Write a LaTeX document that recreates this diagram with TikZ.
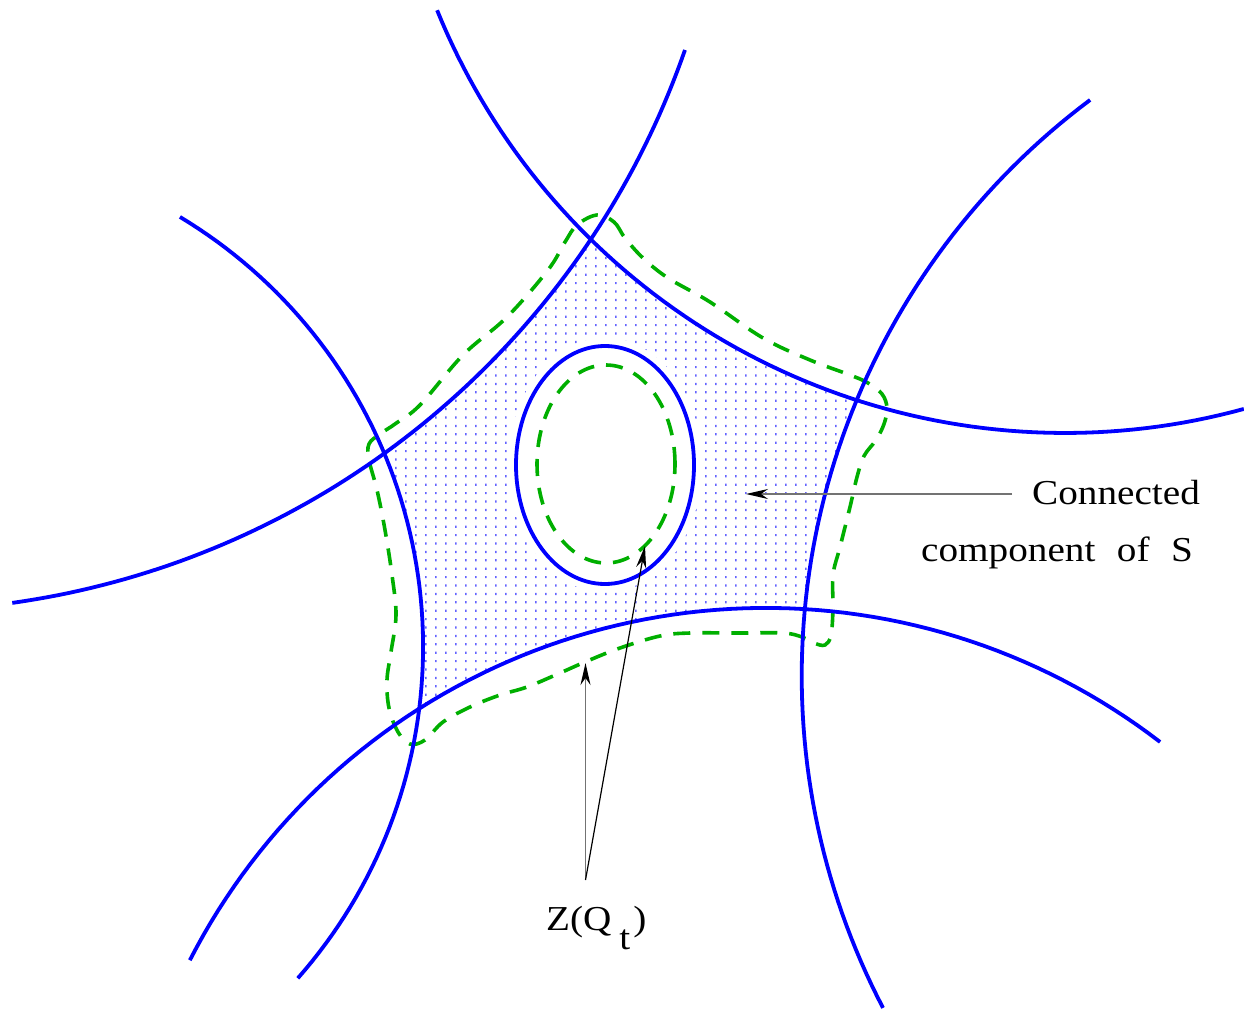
\documentclass[tikz,border=0pt]{standalone}
\usepackage{fontspec}
\usepackage{graphicx}
\setmainfont{Liberation Serif}
\usetikzlibrary{arrows.meta}
\definecolor{grn}{RGB}{0,175,0}
\definecolor{dotc}{RGB}{100,100,255}
\begin{document}
\begin{tikzpicture}[x=1pt,y=-1pt,
  blueline/.style={draw=blue, line width=3.8pt},
  greendash/.style={draw=grn, line width=3.6pt, dash pattern=on 17pt off 12pt},
  leadergray/.style={draw=black!55, line width=1.5pt},
  leaderblack/.style={draw=black, line width=1.2pt},
  tipped/.style={-{Stealth[length=22pt,width=10pt,inset=7pt,color=black]}},
  lbl/.style={inner sep=0pt, font=\fontsize{35}{42}\selectfont}]
\useasboundingbox (0,0) rectangle (1244,1011);

% dotted region
\begin{scope}
\clip plot[domain=134.3:107.8,samples=30] ({1065+677.7*cos(\x)},{-244.7+677.7*sin(\x)})
 -- plot[domain=202.6:185.5,samples=20] ({1520.9+719.2*cos(\x)},{675.8+719.2*sin(\x)})
 -- plot[domain=273.5:237.75,samples=30] ({765.8+647*cos(\x)},{1254.9+647*sin(\x)})
 -- plot[domain=6.9:-22.7,samples=20] ({-78.3+501.4*cos(\x)},{646.7+501.4*sin(\x)})
 -- plot[domain=54.2:33.7,samples=30] ({-103.95+835.2*cos(\x)},{-224.15+835.2*sin(\x)})
 -- cycle;
\fill[dotc] \foreach \i in {0,...,48} { \foreach \j in {0,...,57} { ({385+10*\i},{240+8.4*\j}) rectangle ++(1.5,2.2) } };
\end{scope}
\fill[white] (605,465) ellipse [x radius=97pt, y radius=127pt];

% green dashed outer curve
\draw[greendash] plot[smooth cycle, tension=0.6] coordinates {
 (597,215) (614,222) (625,238) (643,258) (668,278) (710,302) (763,338) (810,360)
 (850,375) (868,383) (882,394) (887,408) (884,424) (876,440) (864,456) (857,477)
 (850,507) (840,547) (833,575) (833,608) (831,635) (825,645) (814,643) (802,637)
 (783,633) (740,633) (690,633) (660,636) (620,648) (585,662) (560,673) (527,687)
 (500,695) (470,707) (443,722) (425,740) (410,744) (398,732) (389,708) (387,680)
 (391,652) (396,615) (392,575) (385,530) (377,490) (369,460) (369,444) (380,434)
 (395,424) (420,405) (463,355) (507,317) (548,270) (565,242) (577,225)};

% green dashed inner ellipse
\draw[greendash] (606,464) ellipse [x radius=69pt, y radius=99pt];

% blue arcs
\draw[blueline] plot[domain=157.9:74.7,samples=80] ({1065+677.7*cos(\x)},{-244.7+677.7*sin(\x)});
\draw[blueline] plot[domain=19.16:82.0,samples=80] ({-103.95+835.2*cos(\x)},{-224.15+835.2*sin(\x)});
\draw[blueline] plot[domain=152.5:233.2,samples=80] ({1520.9+719.2*cos(\x)},{675.8+719.2*sin(\x)});
\draw[blueline] plot[domain=-59:41.4,samples=80] ({-78.3+501.4*cos(\x)},{646.7+501.4*sin(\x)});
\draw[blueline] plot[domain=207.1:307.55,samples=80] ({765.8+647*cos(\x)},{1254.9+647*sin(\x)});
\draw[blueline] (605,465) ellipse [x radius=89pt, y radius=119pt];

% labels
\node[lbl, anchor=base west] (conn) at (1032,504) {\scalebox{1.12}[1]{Connected}};
\node[lbl, anchor=base west] (comp) at (921,561) {\scalebox{1.12}[1]{component\hspace{0.55em}of\hspace{0.55em}S}};
\node[lbl, anchor=base west] (zq) at (546,930) {\scalebox{1.12}[1]{Z(Q\hspace{0.2em}\raisebox{-19pt}{t}\hspace{0.08em})}};

% leaders
\coordinate (cs) at (1012,494);
\coordinate (ce) at (746,494);
\coordinate (zs) at (585.5,880);
\coordinate (ze1) at (585.5,663);
\coordinate (ze2) at (645,546);
\draw[leadergray, tipped] (cs) -- (ce);
\draw[leadergray, tipped] (zs) -- (ze1);
\draw[leaderblack, tipped] (zs) -- (ze2);
\end{tikzpicture}
\end{document}
